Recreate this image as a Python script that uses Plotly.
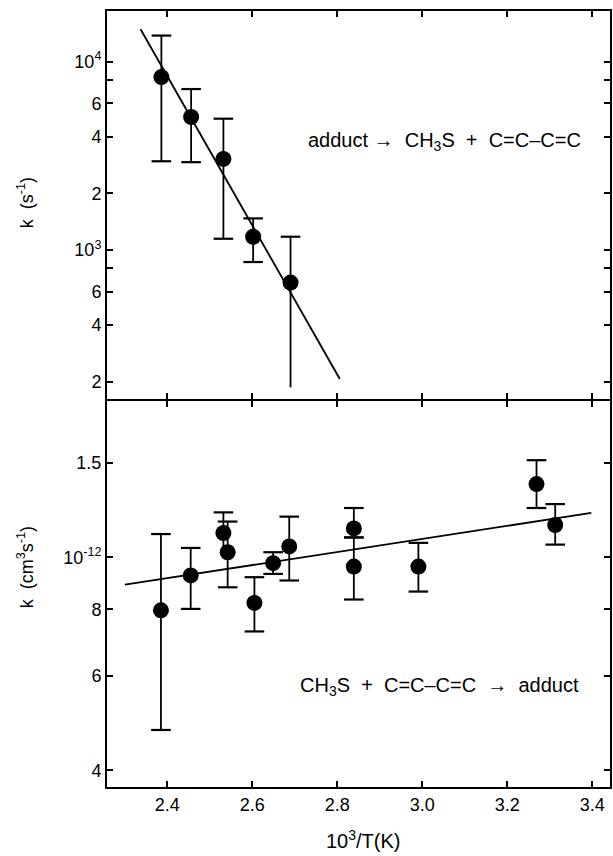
import plotly.graph_objects as go

# ---------------- data ----------------
# Top panel: unimolecular decomposition  adduct -> CH3S + C=C-C=C
top_x = [2.386, 2.456, 2.532, 2.602, 2.690]
top_k = [8270, 5080, 3045, 1177, 672]
top_hi = [13730, 7145, 4975, 1472, 1177]
top_lo = [2958, 2925, 1148, 864, 187]
top_lo_cap = [True, True, True, True, False]
top_fit_x = [2.337, 2.806]
top_fit_k = [14840, 207]

# Bottom panel: CH3S + C=C-C=C -> adduct  (units of 1e-12 cm3 s-1)
bot_x = [2.385, 2.455, 2.532, 2.542, 2.605, 2.649, 2.687, 2.839, 2.839, 2.991, 3.269, 3.313]
bot_k = [0.796, 0.925, 1.110, 1.022, 0.822, 0.975, 1.048, 1.132, 0.961, 0.961, 1.370, 1.149]
bot_hi = [1.105, 1.041, 1.213, 1.166, 0.918, 1.022, 1.191, 1.236, 1.089, 1.064, 1.518, 1.257]
bot_lo = [0.476, 0.801, 1.010, 0.879, 0.727, 0.931, 0.905, 1.089, 0.834, 0.863, 1.236, 1.056]
bot_lo_cap = [True, True, False, True, True, True, True, True, True, True, True, True]
bot_fit_x = [2.300, 3.398]
bot_fit_k = [0.889, 1.210]

x_ticks = [2.4, 2.6, 2.8, 3.0, 3.2, 3.4]
x_ticktext = ["2.4", "2.6", "2.8", "3.0", "3.2", "3.4"]
top_ticks = [200, 400, 600, 800, 1000, 2000, 4000, 6000, 8000, 10000]
top_ticktext = ["2", "4", "6", "", "10<sup>3</sup>", "2", "4", "6", "", "10<sup>4</sup>"]
bot_ticks = [0.4, 0.6, 0.8, 1.0, 1.5]
bot_ticktext = ["4", "6", "8", "10<sup>-12</sup>", "1.5"]

FONT = "Liberation Sans"
BLACK = "black"

fig = go.Figure()


def add_panel(xs, ks, his, los, locaps, fx, fk, xa, ya):
    # fit line
    fig.add_trace(go.Scatter(x=fx, y=fk, mode="lines", line=dict(color=BLACK, width=1.8),
                             xaxis=xa, yaxis=ya, showlegend=False, hoverinfo="skip"))
    # error bar stems
    sx, sy = [], []
    for x, lo, hi in zip(xs, los, his):
        sx += [x, x, None]
        sy += [lo, hi, None]
    fig.add_trace(go.Scatter(x=sx, y=sy, mode="lines", line=dict(color=BLACK, width=1.8),
                             xaxis=xa, yaxis=ya, showlegend=False, hoverinfo="skip"))
    # caps
    cx = list(xs) + [x for x, c in zip(xs, locaps) if c]
    cy = list(his) + [lo for lo, c in zip(los, locaps) if c]
    fig.add_trace(go.Scatter(x=cx, y=cy, mode="markers",
                             marker=dict(symbol="line-ew", size=14, color=BLACK,
                                         line=dict(color=BLACK, width=2.2)),
                             xaxis=xa, yaxis=ya, showlegend=False, hoverinfo="skip"))
    # points
    fig.add_trace(go.Scatter(x=xs, y=ks, mode="markers",
                             marker=dict(symbol="circle", size=16, color=BLACK),
                             xaxis=xa, yaxis=ya, showlegend=False))


add_panel(top_x, top_k, top_hi, top_lo, top_lo_cap, top_fit_x, top_fit_k, "x2", "y2")
add_panel(bot_x, bot_k, bot_hi, bot_lo, bot_lo_cap, bot_fit_x, bot_fit_k, "x", "y")

split = 387 / 776
gap = 1 / 776
axis_common = dict(showline=True, linecolor=BLACK, linewidth=2, mirror="ticks",
                   ticks="inside", ticklen=6, tickwidth=1.5, tickcolor=BLACK,
                   showgrid=False, zeroline=False,
                   tickfont=dict(family=FONT, size=18, color=BLACK))

fig.update_layout(
    width=613, height=856,
    margin=dict(l=107, r=1, t=11, b=69),
    paper_bgcolor="white", plot_bgcolor="white",
    font=dict(family=FONT, size=18, color=BLACK),
    xaxis=dict(range=[2.258, 3.442], domain=[0, 1], anchor="y",
               tickvals=x_ticks, ticktext=x_ticktext, **axis_common),
    xaxis2=dict(range=[2.258, 3.442], domain=[0, 1], anchor="y2", matches="x",
                tickvals=x_ticks, showticklabels=False, **axis_common),
    yaxis=dict(type="log", range=[-0.4289, 0.2918], domain=[0, split - gap], anchor="x",
               tickvals=bot_ticks, ticktext=bot_ticktext, **axis_common),
    yaxis2=dict(type="log", range=[2.210, 4.268], domain=[split + gap, 1], anchor="x2",
                tickvals=top_ticks, ticktext=top_ticktext, **axis_common),
)

annotations = [
    dict(text="adduct \u2192  CH<sub>3</sub>S  +  C=C\u2013C=C", x=0.671, y=0.8316,
         xref="paper", yref="paper", xanchor="center", yanchor="middle",
         showarrow=False, font=dict(size=20)),
    dict(text="CH<sub>3</sub>S  +  C=C\u2013C=C  \u2192  adduct", x=0.662, y=0.129,
         xref="paper", yref="paper", xanchor="center", yanchor="middle",
         showarrow=False, font=dict(size=20)),
    dict(text="k  (s<sup>-1</sup>)", x=-0.1624, y=(787 - 203) / 776, xref="paper", yref="paper",
         xanchor="center", yanchor="middle",
         showarrow=False, textangle=-90, font=dict(size=18)),
    dict(text="k  (cm<sup>3</sup>s<sup>-1</sup>)", x=-0.1624, y=(787 - 567) / 776, xref="paper",
         yref="paper", xanchor="center", yanchor="middle",
         showarrow=False, textangle=-90, font=dict(size=18)),
    dict(text="10<sup>3</sup>/T(K)", x=0.509, y=(787 - 839) / 776, xref="paper", yref="paper",
         xanchor="center", yanchor="middle",
         showarrow=False, font=dict(size=20)),
]
fig.update_layout(annotations=annotations)

fig.write_html("out.html")
